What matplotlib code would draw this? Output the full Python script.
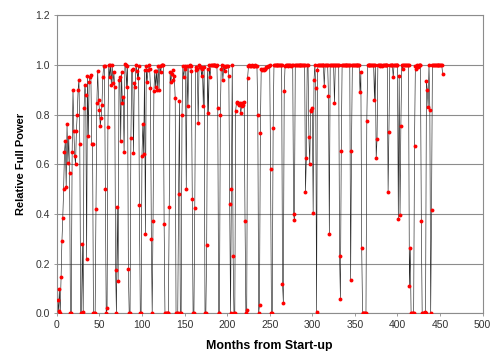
import numpy as np
import matplotlib
matplotlib.use("Agg")
import matplotlib.pyplot as plt

# relative full power, one reading per month from start-up
power = [
    0.056, 0.01, 0.097, 0.0, 0.145, 0.29, 0.385, 0.5, 0.65, 0.695,
    0.51, 0.76, 0.605, 0.71, 0.565, 0.0, 0.0, 0.65, 0.9, 0.735,
    0.635, 0.6, 0.735, 0.8, 0.9, 0.94, 0.68, 0.0, 0.0, 0.28,
    0.005, 0.825, 0.92, 0.88, 0.22, 0.955, 0.715, 0.93, 0.95, 0.96,
    0.68, 0.68, 0.0, 0.0, 0.0, 0.42, 0.845, 0.975, 0.86, 0.82,
    0.755, 0.785, 0.84, 0.95, 0.995, 0.995, 0.5, 0.0, 0.02, 0.75,
    1.0, 0.95, 1.0, 0.92, 1.0, 0.925, 0.97, 0.91, 0.175, 0.0,
    0.43, 0.13, 0.94, 0.95, 0.695, 0.97, 0.845, 0.87, 0.65, 1.005,
    1.0, 0.91, 0.995, 0.18, 0.0, 0.0, 0.705, 0.98, 0.985, 0.645,
    0.925, 0.91, 1.0, 0.975, 0.945, 0.995, 0.435, 0.0, 0.0, 0.635,
    0.76, 0.64, 0.98, 0.32, 0.995, 0.93, 0.98, 1.0, 0.985, 0.905,
    0.3, 0.0, 0.37, 0.895, 0.975, 0.91, 0.975, 0.9, 0.995, 0.9,
    0.995, 0.97, 1.0, 1.0, 1.0, 0.36, 0.0, 0.0, 0.0, 0.0,
    0.0, 0.43, 0.97, 0.93, 0.965, 0.98, 0.94, 0.955, 0.865, 0.0,
    0.0, 0.0, 0.48, 0.855, 0.0, 0.0, 0.8, 0.995, 0.95, 0.985,
    0.995, 0.5, 0.995, 0.835, 0.995, 1.0, 0.995, 0.975, 0.46, 0.0,
    0.0, 0.425, 0.98, 0.99, 0.985, 0.765, 1.0, 0.99, 0.99, 0.955,
    0.985, 0.835, 0.99, 0.0, 0.0, 0.275, 0.985, 0.805, 1.0, 0.95,
    1.0, 1.0, 1.0, 1.0, 1.0, 1.0, 0.995, 1.0, 0.825, 0.0,
    0.0, 0.8, 0.985, 1.0, 0.94, 0.995, 0.975, 0.99, 0.995, 0.995,
    0.995, 0.955, 0.44, 0.0, 0.5, 1.0, 0.23, 0.0, 0.0, 0.815,
    0.85, 0.845, 0.845, 0.84, 0.845, 0.805, 0.835, 0.845, 0.84, 0.85,
    0.37, 0.0, 0.013, 0.945, 0.995, 1.0, 0.995, 0.995, 1.0, 0.995,
    0.995, 0.995, 1.0, 0.995, 0.995, 0.8, 0.0, 0.033, 0.725, 0.985,
    0.98, 0.985, 0.98, 0.985, 0.985, 0.99, 0.99, 0.995, 0.995, 1.0,
    0.58, 0.0, 0.0, 0.745, 1.0, 1.0, 1.0, 1.0, 1.0, 1.0,
    1.0, 1.0, 1.0, 1.0, 0.12, 0.043, 0.895, 0.995, 1.0, 1.0,
    1.0, 0.995, 1.0, 1.0, 0.995, 1.0, 1.0, 0.4, 0.375, 1.0,
    1.0, 1.0, 1.0, 1.0, 1.0, 1.0, 1.0, 1.0, 1.0, 1.0,
    1.0, 0.49, 0.625, 1.0, 1.0, 0.71, 0.6, 0.815, 0.82, 0.825,
    0.405, 0.94, 1.0, 0.905, 0.005, 0.98, 1.0, 1.0, 1.0, 1.0,
    1.0, 1.0, 1.0, 0.915, 1.0, 1.0, 1.0, 1.0, 0.875, 0.32,
    1.0, 1.0, 1.0, 1.0, 1.0, 0.845, 1.0, 1.0, 1.0, 1.0,
    1.0, 0.23, 0.06, 0.655, 1.0, 1.0, 1.0, 1.0, 1.0, 1.0,
    1.0, 1.0, 1.0, 1.0, 0.135, 0.655, 1.0, 1.0, 1.0, 1.0,
    1.0, 1.0, 1.0, 1.0, 1.0, 0.89, 0.97, 0.265, 0.0, 0.0,
    0.0, 0.0, 0.0, 0.775, 1.0, 1.0, 1.0, 1.0, 1.0, 1.0,
    1.0, 1.0, 0.86, 1.0, 0.625, 0.7, 1.0, 1.0, 0.995, 1.0,
    1.0, 0.995, 1.0, 1.0, 1.0, 1.0, 1.0, 1.0, 0.49, 0.73,
    1.0, 1.0, 1.0, 1.0, 0.95, 1.0, 1.0, 1.0, 1.0, 1.0,
    0.38, 0.955, 0.395, 0.755, 1.0, 0.985, 1.0, 1.0, 1.0, 1.0,
    1.0, 1.0, 1.0, 0.11, 0.265, 0.0, 0.0, 0.0, 0.0, 0.675,
    0.995, 0.985, 1.0, 0.99, 1.0, 1.0, 1.0, 0.37, 0.0, 0.0,
    0.003, 0.006, 0.0, 0.935, 0.9, 0.83, 1.0, 0.82, 0.0, 0.415,
    1.0, 1.0, 1.0, 1.0, 1.0, 1.0, 1.0, 1.0, 1.0, 1.0,
    1.0, 1.0, 0.962,
]
months = np.arange(1, len(power) + 1)

x_ticks = [0, 50, 100, 150, 200, 250, 300, 350, 400, 450, 500]
y_ticks = [0.0, 0.2, 0.4, 0.6, 0.8, 1.0, 1.2]

plt.rcParams['font.family'] = ['Liberation Sans', 'DejaVu Sans']

fig = plt.figure(figsize=(4.94, 3.51), dpi=100)
# right edge pulled in a little so the "500" label stays on the canvas
ax = fig.add_axes([0.115, 0.107, 0.862, 0.850])

# thin dark trace with red month markers on top
ax.plot(months, power, color="#262626", lw=0.45, zorder=2)
ax.plot(months, power, ls="none", marker="o", ms=2.8, color="#ff0000",
        markeredgewidth=0, zorder=3)

ax.set_xlim(0, 500)
ax.set_ylim(0, 1.2)
ax.set_xticks(x_ticks)
ax.set_yticks(y_ticks)
ax.set_yticklabels([f"{v:.1f}" for v in y_ticks])
ax.yaxis.grid(True, color="#8c8c8c", lw=0.8)
ax.set_axisbelow(True)

for s in ax.spines.values():
    s.set_color("#8c8c8c")
    s.set_linewidth(0.8)
ax.tick_params(labelsize=7.5, labelcolor="#333333", color="#8c8c8c",
               length=2, width=0.6, pad=3)

ax.set_xlabel("Months from Start-up", fontsize=8.9, fontweight="bold",
              labelpad=7)
ax.set_ylabel("Relative Full Power", fontsize=8.0, fontweight="bold",
              labelpad=7)

fig.savefig("out.png", dpi=100)
